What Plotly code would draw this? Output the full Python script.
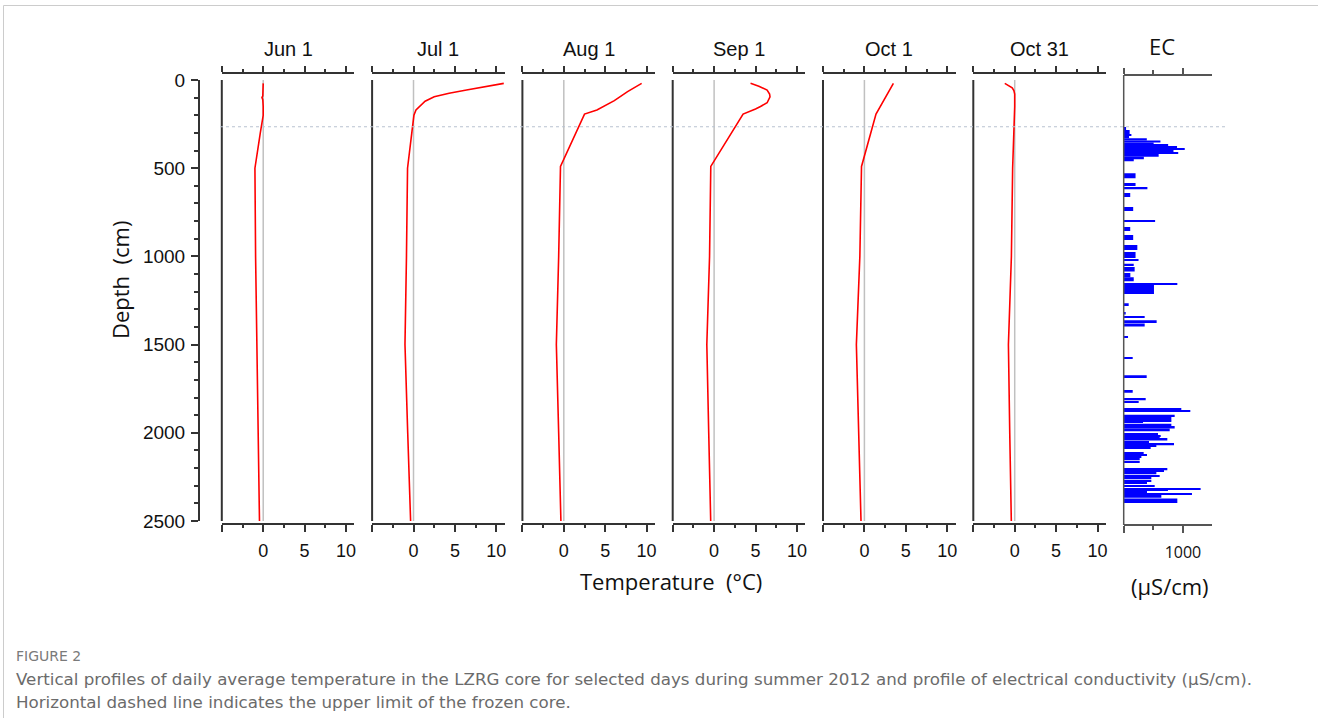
import plotly.graph_objects as go

W, H = 1318, 718


def px(x):
    return x / W


def py(y):
    return 1 - y / H


# ---------------- data ----------------
dates = ["Jun 1", "Jul 1", "Aug 1", "Sep 1", "Oct 1", "Oct 31"]

jun_depth = [19, 60, 90, 100, 112, 150, 200, 300, 400, 500, 1000, 1500, 2000, 2500]
jun_temp = [0.0, 0.0, -0.05, -0.15, -0.05, 0.0, 0.0, -0.35, -0.7, -1.0, -0.92, -0.78, -0.62, -0.45]

jul_depth = [19, 40, 57, 75, 95, 120, 142, 170, 200, 500, 1000, 1500, 2000, 2500]
jul_temp = [10.9, 8.2, 6.4, 4.3, 2.5, 1.4, 0.9, 0.3, 0.05, -0.72, -0.85, -1.03, -0.7, -0.35]

aug_depth = [19, 66, 117, 170, 193, 490, 1000, 1500, 2000, 2500]
aug_temp = [9.4, 7.7, 6.1, 4.0, 2.5, -0.4, -0.62, -0.9, -0.62, -0.35]

sep_depth = [19, 35, 57, 80, 95, 115, 129, 150, 164, 193, 490, 1000, 1500, 2000, 2500]
sep_temp = [4.4, 5.4, 6.4, 6.7, 6.75, 6.6, 6.4, 5.6, 5.0, 3.5, -0.4, -0.55, -0.88, -0.65, -0.41]

oct1_depth = [19, 60, 104, 150, 193, 490, 1000, 1500, 2000, 2500]
oct1_temp = [3.5, 3.0, 2.5, 1.9, 1.4, -0.35, -0.55, -0.97, -0.7, -0.41]

oct31_depth = [19, 30, 45, 60, 80, 150, 265, 500, 1000, 1500, 2000, 2500]
oct31_temp = [-1.2, -0.75, -0.3, -0.1, 0.0, 0.0, -0.1, -0.25, -0.4, -0.76, -0.6, -0.41]

profiles = [
    (jun_depth, jun_temp),
    (jul_depth, jul_temp),
    (aug_depth, aug_temp),
    (sep_depth, sep_temp),
    (oct1_depth, oct1_temp),
    (oct31_depth, oct31_temp),
]

# Electrical conductivity samples: depth interval (cm) and value (uS/cm)
ec_top = [266, 283, 306, 318, 330, 343, 355, 367, 378, 388, 397, 408, 420, 435, 449,
          529, 584, 612, 641, 720, 794, 833, 879, 935, 975,
          1018, 1041, 1060, 1094, 1118, 1130, 1151, 1160, 1266, 1319, 1338, 1362, 1381,
          1455, 1574, 1674, 1763, 1808, 1820, 1864, 1872, 1897, 1910, 1933, 1938, 1948,
          1967, 1976, 2005, 2015, 2024, 2034, 2049, 2062, 2071, 2081, 2109, 2122, 2132,
          2147, 2160, 2200, 2213, 2226, 2241, 2256, 2269, 2283, 2298, 2313, 2320, 2331,
          2345, 2350, 2373]
ec_bottom = [283, 306, 318, 330, 343, 355, 367, 378, 388, 397, 408, 420, 435, 449, 460,
             557, 601, 620, 663, 743, 802, 856, 907, 964, 1009,
             1026, 1054, 1085, 1118, 1130, 1141, 1160, 1213, 1281, 1330, 1349, 1378, 1398,
             1463, 1582, 1689, 1773, 1816, 1826, 1872, 1878, 1910, 1929, 1938, 1945, 1967,
             1976, 1991, 2015, 2024, 2034, 2043, 2054, 2071, 2081, 2090, 2118, 2128, 2141,
             2156, 2169, 2213, 2222, 2235, 2250, 2264, 2279, 2290, 2307, 2320, 2330, 2341,
             2350, 2368, 2398]
ec_value = [40, 100, 130, 90, 390, 620, 505, 750, 900, 1030, 840, 920, 590, 340, 170,
            200, 200, 400, 110, 160, 530, 110, 160, 230, 200,
            250, 169, 185, 112, 169, 169, 905, 511, 84, 28, 354, 556, 354,
            73, 152, 388, 152, 371, 253, 972, 1124, 860, 804, 804, 326, 804,
            860, 776, 579, 624, 607, 736, 427, 849, 551, 455, 337, 393, 298,
            270, 270, 736, 680, 551, 607, 466, 466, 393, 523, 1298, 747, 393,
            1152, 635, 905]

depth_max = 2500
frozen_top = 265          # upper limit of frozen core (cm)
temp_range = [-5, 11]
ec_range = [0, 1490]

# ---------------- layout geometry (pixels) ----------------
panel_left0 = 221.8
panel_step = 150.3
panel_w = 132.5
data_top, data_bot = 80, 521
ec_left, ec_right = 1123.7, 1212

axis_col = "#333333"
fig = go.Figure()
layout = dict(
    width=W, height=H,
    margin=dict(l=0, r=0, t=0, b=0, autoexpand=False),
    paper_bgcolor="white", plot_bgcolor="rgba(0,0,0,0)",
    showlegend=False,
)

layout["yaxis"] = dict(
    domain=[py(data_bot), py(data_top)],
    range=[depth_max, 0],
    anchor="free", position=px(199),
    showline=True, linecolor=axis_col, linewidth=2,
    ticks="outside", ticklen=7, tickwidth=2, tickcolor=axis_col,
    tickmode="linear", tick0=0, dtick=500,
    minor=dict(dtick=100, ticks="outside", ticklen=4, tickwidth=1.5, tickcolor=axis_col),
    showgrid=False, zeroline=False,
    tickfont=dict(family="Liberation Sans, Arial", size=19, color="#111"),
    ticklabelstandoff=2,
    fixedrange=True, automargin=False,
)

shapes = []
annotations = []

for i, (name, (dep, tmp)) in enumerate(zip(dates, profiles)):
    left = panel_left0 + panel_step * i
    dom = [px(left), px(left + panel_w)]
    bi = i + 1
    ti = i + 8
    bkey = "xaxis" if bi == 1 else f"xaxis{bi}"
    bref = "x" if bi == 1 else f"x{bi}"
    tkey = f"xaxis{ti}"
    tref = f"x{ti}"
    common = dict(
        range=temp_range, showline=True, linecolor=axis_col, linewidth=2,
        ticks="outside", tickwidth=1.5, tickcolor=axis_col,
        tickmode="array", tickvals=[-5, 0, 5, 10],
        minor=dict(tickmode="array", tickvals=[-2.5, 2.5, 7.5], ticks="outside",
                   ticklen=3, tickwidth=1.5, tickcolor=axis_col),
        showgrid=False, zeroline=False, fixedrange=True, automargin=False,
    )
    layout[bkey] = dict(
        domain=dom, anchor="free", position=py(524), side="bottom",
        ticklen=7, ticktext=["", "0", "5", "10"],
        tickfont=dict(family="Liberation Sans, Arial", size=18, color="#111"),
        ticklabelstandoff=3,
        **common,
    )
    layout[tkey] = dict(
        overlaying=bref, anchor="free", position=py(73), side="top",
        ticklen=6, ticktext=["", "", "", ""], showticklabels=False,
        **common,
    )
    # zero reference line
    shapes.append(dict(type="line", xref=bref, yref="y", x0=0, x1=0, y0=depth_max, y1=0,
                       line=dict(color="#c0c0c0", width=1.5), layer="below"))
    # panel left frame line
    shapes.append(dict(type="line", xref="paper", yref="y", x0=dom[0], x1=dom[0],
                       y0=depth_max, y1=0, line=dict(color=axis_col, width=2)))
    fig.add_trace(go.Scatter(x=tmp, y=dep, xaxis=bref, yaxis="y", mode="lines",
                             line=dict(color="#ff0000", width=1.6), hoverinfo="skip"))
    fig.add_trace(go.Scatter(x=[None], y=[None], xaxis=tref, yaxis="y", mode="lines",
                             hoverinfo="skip"))
    annotations.append(dict(text=name, xref="paper", yref="paper",
                            x=px(left + panel_w / 2), y=py(49), showarrow=False,
                            xanchor="center", yanchor="middle",
                            font=dict(family="Liberation Sans, Arial", size=20, color="#111")))

# EC panel axes
ec_col = "#555555"
ec_common = dict(
    range=ec_range, showline=True, linecolor=ec_col, linewidth=1.5,
    ticks="outside", tickwidth=1.5, tickcolor=ec_col,
    tickmode="array", tickvals=[0, 1000],
    minor=dict(tickmode="array", tickvals=[500], ticks="outside", ticklen=4,
               tickwidth=1.5, tickcolor=ec_col),
    showgrid=False, zeroline=False, fixedrange=True, automargin=False,
)
layout["xaxis7"] = dict(
    domain=[px(ec_left), px(ec_right)], anchor="free", position=py(525), side="bottom",
    ticklen=7, ticktext=["", "1000"],
    tickfont=dict(family="Open Sans, Lato, sans-serif", size=16, color="#111"),
    ticklabelstandoff=6,
    **ec_common,
)
layout["xaxis14"] = dict(
    overlaying="x7", anchor="free", position=py(75), side="top",
    ticklen=6, ticktext=["", ""], showticklabels=False,
    **ec_common,
)
ec_center = [(a + b) / 2 for a, b in zip(ec_top, ec_bottom)]
ec_thick = [b - a for a, b in zip(ec_top, ec_bottom)]
fig.add_trace(go.Bar(orientation="h", x=ec_value, y=ec_center, width=ec_thick,
                     xaxis="x7", yaxis="y", marker=dict(color="#0000ff", line=dict(width=0)),
                     hoverinfo="skip"))
fig.add_trace(go.Scatter(x=[None], y=[None], xaxis="x14", yaxis="y", mode="lines",
                         hoverinfo="skip"))
shapes.append(dict(type="line", xref="paper", yref="paper", x0=px(ec_left), x1=px(ec_left),
                   y0=py(525), y1=py(75), line=dict(color=ec_col, width=1.5)))

# frozen-core dashed line
shapes.append(dict(type="line", xref="paper", yref="y", x0=px(220), x1=px(1225),
                   y0=frozen_top, y1=frozen_top,
                   line=dict(color="#b8c2d0", width=1, dash="dot")))

# outer frame
shapes.append(dict(type="line", xref="paper", yref="paper", x0=px(3.5), x1=1.0,
                   y0=py(5.5), y1=py(5.5), line=dict(color="#cccccc", width=1)))
shapes.append(dict(type="line", xref="paper", yref="paper", x0=px(3.5), x1=px(3.5),
                   y0=py(5.5), y1=0, line=dict(color="#cccccc", width=1)))

calibri = "Open Sans, Lato, sans-serif"
annotations += [
    dict(text="EC", x=px(1162), y=py(46), font=dict(family=calibri, size=22, color="#111")),
    dict(text="Temperature\u00a0 (°C)", x=px(671), y=py(581),
         font=dict(family=calibri, size=22, color="#111")),
    dict(text="(µS/cm)", x=px(1170), y=py(586), font=dict(family=calibri, size=22, color="#111")),
    dict(text="Depth\u00a0 (cm)", x=px(120), y=py(280), textangle=-90,
         font=dict(family=calibri, size=22, color="#111")),
]
for a in annotations[-4:]:
    a.update(xref="paper", yref="paper", showarrow=False, xanchor="center", yanchor="middle")

cap_font = "DejaVu Sans, Noto Sans, sans-serif"
annotations += [
    dict(text="FIGURE 2", x=px(14), y=py(656), xanchor="left",
         font=dict(family=cap_font, size=14, color="#7a7a7a")),
    dict(text="Vertical profiles of daily average temperature in the LZRG core for selected days "
              "during summer 2012 and profile of electrical conductivity (µS/cm).",
         x=px(14), y=py(679), xanchor="left", font=dict(family=cap_font, size=16.7, color="#6b6b6b")),
    dict(text="Horizontal dashed line indicates the upper limit of the frozen core.",
         x=px(14), y=py(702), xanchor="left", font=dict(family=cap_font, size=16.7, color="#6b6b6b")),
]
for a in annotations[-3:]:
    a.update(xref="paper", yref="paper", showarrow=False, yanchor="middle")

layout["shapes"] = shapes
layout["annotations"] = annotations
fig.update_layout(**layout)
fig.write_html("out.html")
